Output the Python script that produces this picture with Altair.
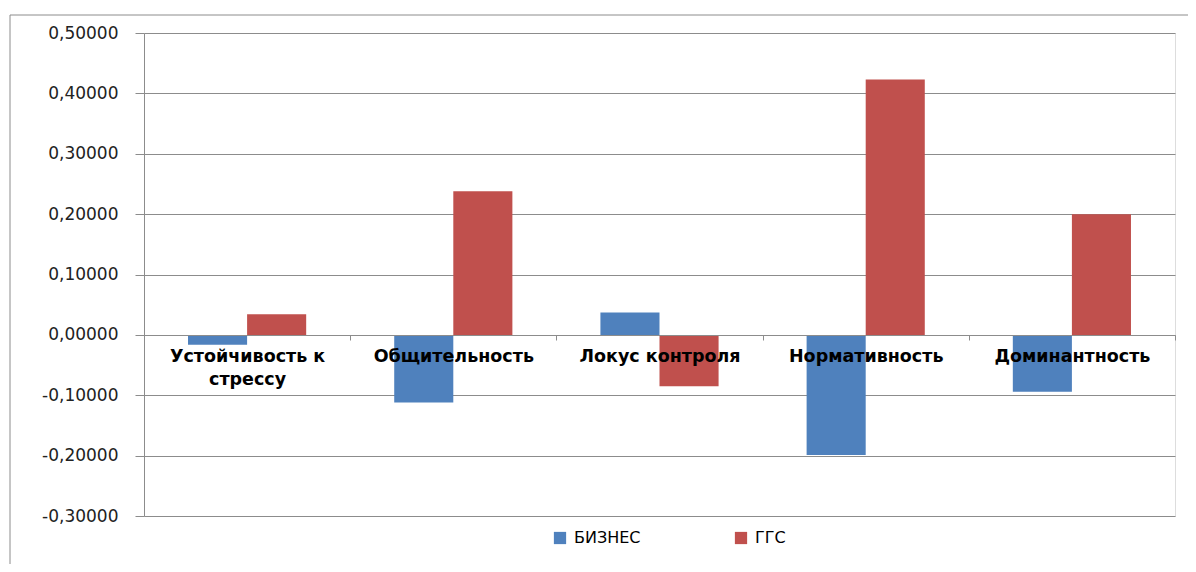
import altair as alt
import pandas as pd

categories = ["Устойчивость к стрессу", "Общительность", "Локус контроля", "Нормативность", "Доминантность"]
series = ["БИЗНЕС", "ГГС"]
biznes = [-0.0165, -0.112, 0.037, -0.199, -0.094]
ggs = [0.034, 0.238, -0.085, 0.423, 0.200]
y_ticks = [-0.3, -0.2, -0.1, 0.0, 0.1, 0.2, 0.3, 0.4, 0.5]
colors = ["#4F81BD", "#C0504D"]

rows = []
for i, c in enumerate(categories):
    rows.append({"cat": c, "series": series[0], "value": biznes[i]})
    rows.append({"cat": c, "series": series[1], "value": ggs[i]})
df = pd.DataFrame(rows)

grey = "#8C8C8C"

y_label_expr = "replace(replace(format(datum.value, '.5f'), '.', ','), '\u2212', '-')"
x_label_expr = ("datum.label == 'Устойчивость к стрессу' ? "
                "['Устойчивость к', 'стрессу'] : datum.label")

bars = alt.Chart(df).mark_bar().encode(
    x=alt.X("cat:N", sort=categories,
            scale=alt.Scale(paddingInner=0, paddingOuter=0),
            axis=alt.Axis(title=None, orient="bottom", offset=-181, tickBand="extent",
                          labelAngle=0, labelFontWeight="bold", labelFontSize=17.5,
                          labelFont="DejaVu Sans", labelColor="black", labelLimit=400,
                          domainColor=grey, tickColor=grey, tickSize=5, labelPadding=7,
                          labelBaseline="top", labelLineHeight=23, labelExpr=x_label_expr,
                          zindex=1)),
    xOffset=alt.XOffset("series:N", sort=series,
                        scale=alt.Scale(paddingOuter=0.745, paddingInner=0)),
    y=alt.Y("value:Q",
            scale=alt.Scale(domain=[-0.3, 0.5], nice=False, zero=False),
            axis=alt.Axis(values=y_ticks, title=None, labelExpr=y_label_expr,
                          grid=True, gridColor=grey, domainColor=grey, tickColor=grey,
                          tickSize=9, labelPadding=17, labelFontSize=17,
                          labelFont="DejaVu Sans", labelColor="#222222")),
    color=alt.Color("series:N", sort=series,
                    scale=alt.Scale(domain=series, range=colors),
                    legend=alt.Legend(title=None, orient="none", direction="horizontal",
                                      legendX=408, legendY=497, symbolType="square",
                                      symbolSize=150, symbolStrokeWidth=0,
                                      labelFont="DejaVu Sans", labelFontSize=16,
                                      labelColor="black", columnPadding=92,
                                      labelOffset=6)),
)

frame = alt.Chart(pd.DataFrame({"a": [0]})).mark_rect(
    filled=False, stroke=grey, strokeWidth=1
).encode(
    x=alt.value(-134), x2=alt.value(1070), y=alt.value(-18), y2=alt.value(570)
)

chart = alt.layer(frame, bars).properties(
    width=1031, height=483,
    autosize=alt.AutoSizeParams(type="none"),
    padding={"left": 136, "top": 25, "right": 13, "bottom": 48},
).configure_view(stroke=None).configure(background="white")

chart.save("out.html", embed_options={"renderer": "svg", "actions": False})
